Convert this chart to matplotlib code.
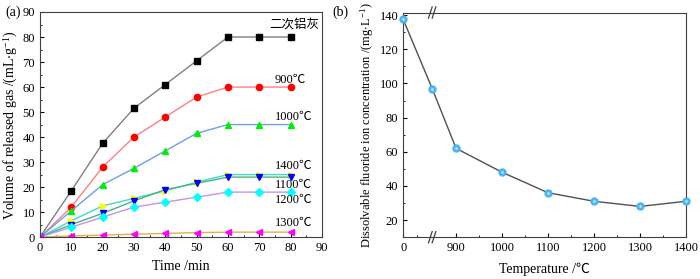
import matplotlib
matplotlib.use("Agg")
import matplotlib.pyplot as plt
import matplotlib.transforms as mtransforms
import numpy as np

plt.rcParams['font.family'] = ['Liberation Serif', 'Noto Sans CJK SC']
plt.rcParams['mathtext.fontset'] = 'stix'
plt.rcParams['font.size'] = 9

# (a) gas release
time = [0, 10, 20, 30, 40, 50, 60, 70, 80]
ash = [0, 18.5, 37.5, 51.5, 61, 70.5, 80, 80, 80]
t900 = [0, 12, 28, 40, 48, 56, 60, 60, 60]
t1000 = [0, 10.5, 21, 27.5, 34.5, 41.5, 45, 45, 45]
t1400 = [0, 6.5, 12.5, 15.5, 18.5, 22, 25, 25, 25]
t1100 = [0, 5, 9.5, 14.5, 19, 21.5, 24, 24, 24]
t1200 = [0, 4, 8, 12, 14, 16, 18, 18, 18]
t1300 = [0, 0.5, 0.8, 1.2, 1.5, 1.8, 2, 2, 2]

# (b) fluoride
temp_pos = [785, 848, 900, 1000, 1100, 1200, 1300, 1400]
fluoride = [137.5, 97, 62, 48, 36, 31, 28, 31]
xtick_pos = [785, 900, 1000, 1100, 1200, 1300, 1400]
xtick_lab = ['0', '900', '1000', '1100', '1200', '1300', '1400']

series = [
    (ash, 's', '#000000', '#808080', '二次铝灰', 81, 85),
    (t900, 'o', '#ff0000', '#ff8080', '900℃', 75, 63),
    (t1000, '^', '#00ee00', '#6a9ff0', '1000℃', 75, 48),
    (t1400, '>', '#ffff00', '#40d8d0', '1400℃', 75, 28.5),
    (t1100, 'v', '#0000ff', '#50b080', '1100℃', 75, 21),
    (t1200, 'D', '#00ffff', '#c890f0', '1200℃', 75, 15),
    (t1300, '<', '#ff00ff', '#e0b050', '1300℃', 75, 5.6),
]

fig = plt.figure(figsize=(7, 2.79), dpi=100)
ax1 = fig.add_axes([0.057, 0.150, 0.403, 0.807])
ax2 = fig.add_axes([0.576, 0.150, 0.404, 0.805])

for vals, mk, mc, lc, lab, tx, ty in series:
    ms = 4 if mk == 'D' else 4.5
    ax1.plot(time, vals, '-', color=lc, lw=1)
    ax1.plot(time, vals, mk, color=mc, ms=ms, mec=mc, ls='none')
    ax1.text(tx, ty, lab, fontsize=9, ha='left' if lab != '二次铝灰' else 'center', va='center')

ax1.set_xlim(0, 90)
ax1.set_ylim(0, 90)
ax1.set_xticks(np.arange(0, 91, 10))
ax1.set_yticks(np.arange(0, 91, 10))
ax1.set_xticks(np.arange(5, 90, 10), minor=True)
ax1.set_yticks(np.arange(5, 90, 10), minor=True)
ax1.tick_params(direction='in', length=3, labelsize=9)
ax1.tick_params(which='minor', direction='in', length=1.5)
ax1.set_xlabel('Time /min', fontsize=10)
ax1.set_ylabel('Volume of released gas /(mL$\\cdot$g$^{\\mathregular{-1}}$)', fontsize=10, labelpad=2)
for s in ax1.spines.values():
    s.set_color('#404040')

ax2.plot(temp_pos, fluoride, '-', color='#505050', lw=1)
ax2.plot(temp_pos, fluoride, 'o', color='#4cb4f0', mec='#4cb4f0', ms=5, ls='none', clip_on=False, zorder=5)
ax2.plot(temp_pos, fluoride, 'o', color='#b8e4ff', mec='none', ms=2, ls='none', clip_on=False, zorder=6)
ax2.set_xlim(785, 1400)
ax2.set_ylim(10, 141.5)
ax2.set_xticks(xtick_pos)
ax2.set_xticklabels(xtick_lab)
ax2.set_xticks([815, 950, 1050, 1150, 1250, 1350], minor=True)
ax2.set_yticks(np.arange(20, 141, 20))
ax2.set_yticks(np.arange(30, 141, 20), minor=True)
ax2.tick_params(direction='in', length=3, labelsize=9)
ax2.tick_params(which='minor', direction='in', length=1.5)
ax2.set_xlabel('Temperature /℃', fontsize=10, labelpad=6)
ax2.set_ylabel('Dissolvable fluoride ion concentration /(mg$\\cdot$L$^{\\mathregular{-1}}$)', fontsize=9, labelpad=2)
for s in ax2.spines.values():
    s.set_color('#404040')

# axis break marks
trans = mtransforms.blended_transform_factory(ax2.transData, ax2.transAxes)
for yb in (0, 1):
    for dx in (-4, 4):
        ax2.plot([848 + dx - 4, 848 + dx + 4], [yb - 0.025, yb + 0.025], color='#404040',
                 lw=0.9, transform=trans, clip_on=False)

fig.text(0.008, 0.955, '(a)', fontsize=10, va='center')
fig.text(0.475, 0.955, '(b)', fontsize=10, va='center')

fig.savefig('out.png', dpi=100)
